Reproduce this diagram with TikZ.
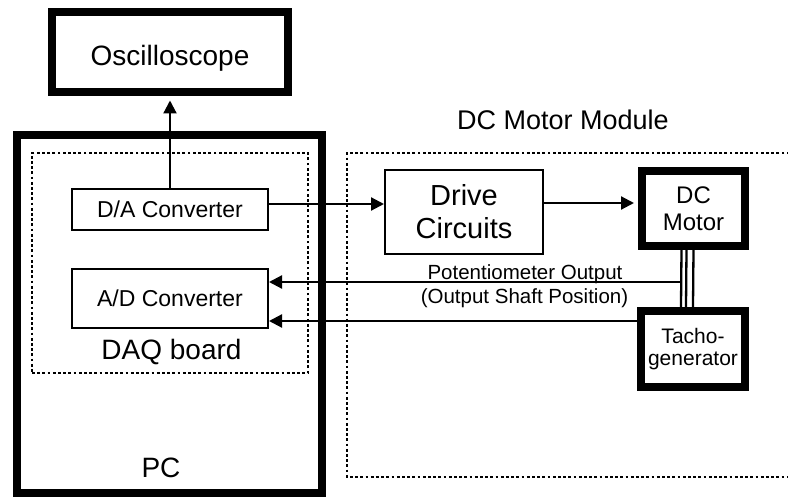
\documentclass[tikz,border=0pt]{standalone}
\usepackage{fontspec}
\setmainfont{Liberation Sans}
\usetikzlibrary{arrows.meta}

\newcommand{\fs}[2]{\fontsize{#1}{#2}\selectfont}

\begin{document}
\begin{tikzpicture}[x=1pt, y=-1pt,
    thinbox/.style={draw, line width=2pt, inner sep=0pt},
    thickbox/.style={draw, line width=8pt, inner sep=0pt},
    dotbox/.style={line width=2.8pt, dash pattern=on 2.8pt off 2.4pt},
    arr/.style={line width=2.2pt, -{Triangle[length=13pt,width=13pt]}}]
            \useasboundingbox (0,0) rectangle (788,497);
            \clip (0,0) rectangle (788,497);

            % osciloskop
            \node[thickbox, minimum width=236pt, minimum height=80pt,
                text height=27pt, text depth=0pt,
                font=\fs{28}{33}] (osc) at (170,52.5) {Oscilloscope};

            % PC
            \node[thickbox, minimum width=305pt, minimum height=358pt]
                (pc) at (169.3,314) {};
            \node[font=\fs{28}{33}] (pclabel) at (161,468) {PC};

            % DAQ karta
            \node[draw, dotbox, inner sep=0pt, minimum width=276pt,
                minimum height=220pt] (daq) at (170,263) {};
            \node[font=\fs{28}{33}] (daqlabel) at (171.5,352) {DAQ board};

            \node[thinbox, minimum width=196pt, minimum height=41pt,
                font=\fs{23}{27}] (da) at (170,209.5) {D/A Converter};
            \node[thinbox, minimum width=196pt, minimum height=59pt,
                font=\fs{23}{27}] (ad) at (170,298.5) {A/D Converter};

            % modul motoru
            \draw[dotbox] (800,153) -- (347,153) -- (347,477) -- (800,477);
            \node[font=\fs{27}{32}] (modlabel) at (563,120) {DC Motor Module};

            \node[thinbox, minimum width=158pt, minimum height=84pt,
                align=center, font=\fs{29}{33}] (drive) at (464,212)
                {Drive\\Circuits};
            \node[thickbox, minimum width=103pt, minimum height=75pt,
                align=center, font=\fs{24}{27}] (motor) at (693.5,208.5)
                {DC\\Motor};
            \node[thickbox, minimum width=104pt, minimum height=76pt,
                align=center, font=\fs{21}{21.5}] (tacho) at (693,349)
                {Tacho-\\generator};

            % hridel
            \foreach \dx in {-12,-7,0}
                \draw[line width=2.3pt] ([xshift=\dx pt]motor.south)
                    -- ([xshift=\dx pt]tacho.north);

            % signaly
            \draw[arr, shorten >=4pt] (da) -- (osc);
            \draw[arr] ([yshift=5.5pt]da.east) -- ([yshift=5.5pt]da.east -| drive.west);
            \draw[arr, shorten >=4pt] ([yshift=9pt]drive.east)
                -- ([yshift=9pt]drive.east -| motor.west);

            \coordinate (pot) at (680.5,282);
            \draw[arr] (pot) -- (pot -| ad.east);
            \draw[arr] ([yshift=28pt]tacho.west) -- ([yshift=28pt]tacho.west -| ad.east);

            \node[font=\fs{20.5}{24}] (potlabel) at (525,274) {Potentiometer Output};
            \node[font=\fs{20.5}{24}] (shaftlabel) at (524.5,298) {(Output Shaft Position)};
        \end{tikzpicture}
\end{document}
